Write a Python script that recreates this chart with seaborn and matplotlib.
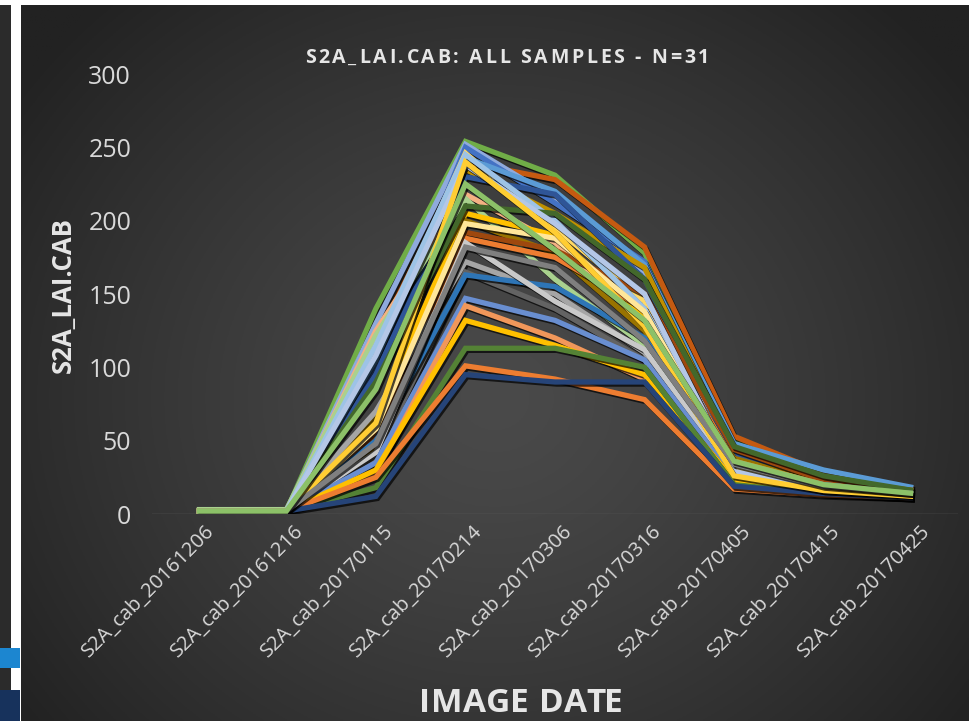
import numpy as np
import pandas as pd
import matplotlib
matplotlib.use("Agg")
import matplotlib.pyplot as plt
import matplotlib.patheffects as pe
import matplotlib.transforms as mtransforms
from matplotlib.patches import Rectangle
import seaborn as sns

# ---------------- data ----------------
dates = ["S2A_cab_20161206", "S2A_cab_20161216", "S2A_cab_20170115",
         "S2A_cab_20170214", "S2A_cab_20170306", "S2A_cab_20170316",
         "S2A_cab_20170405", "S2A_cab_20170415", "S2A_cab_20170425"]

s01 = [2, 2, 140, 254, 231, 178, 50, 27, 16]
s02 = [2, 2, 120, 240, 228, 182, 53, 28, 17]
s03 = [2, 2, 130, 252, 215, 165, 35, 20, 14]
s04 = [2, 2, 100, 250, 212, 172, 45, 25, 15]
s05 = [2, 2, 110, 246, 195, 145, 30, 17, 13]
s06 = [2, 2, 105, 243, 220, 170, 48, 30, 18]
s07 = [2, 2, 60, 235, 205, 168, 42, 24, 16]
s08 = [2, 2, 95, 230, 218, 160, 40, 22, 15]
s09 = [2, 2, 125, 218, 185, 130, 28, 18, 13]
s10 = [3, 3, 122, 215, 160, 115, 25, 16, 12]
s11 = [2, 2, 65, 205, 190, 135, 32, 19, 14]
s12 = [2, 2, 45, 200, 178, 125, 38, 21, 15]
s13 = [2, 2, 55, 192, 180, 150, 44, 23, 16]
s14 = [2, 2, 40, 188, 175, 140, 36, 20, 14]
s15 = [2, 2, 70, 172, 150, 110, 30, 18, 13]
s16 = [2, 2, 38, 165, 140, 105, 26, 17, 12]
s17 = [2, 2, 50, 163, 155, 120, 33, 20, 14]
s18 = [2, 2, 42, 185, 145, 112, 27, 16, 12]
s19 = [2, 2, 35, 147, 132, 105, 24, 15, 12]
s20 = [2, 2, 28, 142, 120, 92, 22, 14, 11]
s21 = [2, 2, 30, 132, 115, 95, 23, 15, 12]
s22 = [2, 2, 18, 113, 113, 100, 20, 14, 11]
s23 = [2, 2, 25, 101, 92, 78, 17, 13, 11]
s24 = [2, 2, 12, 95, 90, 90, 19, 14, 11]
s25 = [2, 2, 115, 245, 200, 140, 32, 18, 13]
s26 = [2, 2, 90, 210, 205, 160, 46, 26, 16]
s27 = [2, 2, 58, 198, 188, 138, 30, 17, 13]
s28 = [2, 2, 108, 238, 198, 150, 29, 16, 13]
s29 = [2, 2, 62, 240, 192, 128, 26, 16, 12]
s30 = [2, 2, 48, 182, 168, 118, 34, 19, 14]
s31 = [2, 2, 85, 225, 180, 132, 36, 20, 14]

series = [s01, s02, s03, s04, s05, s06, s07, s08, s09, s10, s11, s12, s13, s14, s15,
          s16, s17, s18, s19, s20, s21, s22, s23, s24, s25, s26, s27, s28, s29, s30, s31]
names = [f"S{i+1:02d}" for i in range(len(series))]

colors = ["#70AD47", "#C55A11", "#8FAADC", "#4472C4", "#FFD966", "#5B9BD5", "#BF9000",
          "#2F5597", "#F4B183", "#A9D18E", "#FFC000", "#997300", "#9E480E", "#ED7D31",
          "#A5A5A5", "#636363", "#2E75B6", "#C9C9C9", "#698ED0", "#F1975A", "#FFC000",
          "#548235", "#ED7D31", "#264478", "#9DC3E6", "#43682B", "#FFE699", "#B4C7E7",
          "#FFCD33", "#7F7F7F", "#8CC168"]

title_text = "S2A_LAI.CAB: ALL SAMPLES - N=31"
ylabel_text = "S2A_LAI.CAB"
xlabel_text = "IMAGE DATE"

df = pd.DataFrame({
    "date": np.tile(dates, len(series)),
    "value": np.concatenate(series),
    "sample": np.repeat(names, len(dates)),
})

# ---------------- figure ----------------
W, H = 969, 721
fig = plt.figure(figsize=(W / 100, H / 100), dpi=100, facecolor="white")

def fx(px):
    return px / W

def fy(py):
    return 1 - py / H

# background gradient panel
bg = fig.add_axes([fx(21), 0, fx(W - 21), fy(5)])
yy, xx = np.mgrid[0:1:300j, 0:1:400j]
d = np.sqrt(((xx - 0.5) / 0.62) ** 2 + ((yy - 0.45) / 0.75) ** 2)
d = np.clip(d, 0, 1)
c0, c1 = 0x4A / 255, 0x22 / 255
img = c0 + (c1 - c0) * d ** 1.3
bg.imshow(np.dstack([img, img, img]), aspect="auto", extent=[0, 1, 0, 1], origin="lower")
bg.set_axis_off()

# left strip decorations
fig.patches.append(Rectangle((0, 0), fx(11), fy(5), transform=fig.transFigure,
                             facecolor="#2B2B2B", edgecolor="none", zorder=-5))
fig.patches.append(Rectangle((0, fy(668)), fx(20), fy(648) - fy(668), transform=fig.transFigure,
                             facecolor="#1C86D0", edgecolor="none"))
fig.patches.append(Rectangle((0, 0), fx(20), fy(690), transform=fig.transFigure,
                             facecolor="#17325C", edgecolor="none"))

ax = fig.add_axes([fx(152), fy(514), fx(958) - fx(152), fy(74) - fy(514)])
ax.set_facecolor("none")

sns.lineplot(data=df, x="date", y="value", hue="sample", palette=colors,
             estimator=None, sort=False, linewidth=3.8, legend=False, ax=ax)

for ln in ax.get_lines():
    ln.set_path_effects([pe.SimpleLineShadow(offset=(1.2, -1.5), shadow_color="black", alpha=0.7),
                         pe.Normal()])
    ln.set_solid_joinstyle("miter")
    ln.set_solid_capstyle("butt")

ax.set_xlim(-0.5, 8.5)
ax.set_ylim(0, 300)
ax.set_yticks([0, 50, 100, 150, 200, 250, 300])
for sp in ax.spines.values():
    sp.set_visible(False)
ax.axhline(0, color="#5E5E5E", linewidth=1.0, zorder=0)
ax.grid(False)
ax.tick_params(axis="both", length=0, colors="#D9D9D9")
ax.tick_params(axis="y", labelsize=18, pad=15)
ax.tick_params(axis="x", labelsize=14.5, pad=5)
for lab in ax.get_yticklabels():
    lab.set_fontfamily("Open Sans")
shift = mtransforms.ScaledTranslation(7 / 100, 0, fig.dpi_scale_trans)
for lab in ax.get_xticklabels():
    lab.set_rotation(45)
    lab.set_ha("right")
    lab.set_rotation_mode("anchor")
    lab.set_fontfamily("Open Sans")
    lab.set_transform(lab.get_transform() + shift)
ax.set_xlabel("")
ax.set_ylabel("")

# ---- tracked (letter-spaced) text helper ----
renderer = fig.canvas.get_renderer()

def tracked_text(xc, yc, s, track_px, **kw):
    """Draw s centered at pixel (xc, yc) with extra spacing between letters."""
    probe = fig.text(0, 0, "|", **kw)
    bar_w = probe.get_window_extent(renderer).width
    offs = []
    for i in range(len(s) + 1):
        probe.set_text(s[:i] + "|")
        offs.append(probe.get_window_extent(renderer).width - bar_w + i * track_px)
    probe.remove()
    total = offs[-1] - track_px
    for i, ch in enumerate(s):
        if ch == " ":
            continue
        o = offs[i] - total / 2
        fig.text(fx(xc + o), fy(yc), ch, ha="left", va="center", **kw)

tracked_text(507, 58, title_text, 2.7, fontsize=14, fontweight="bold",
             color="#E6E6E6", family="Open Sans")
fig.text(fx(63), fy(295), ylabel_text, ha="center", va="center", rotation=90,
         fontsize=18.5, fontweight="bold", color="#E6E6E6", family="Open Sans")
tracked_text(521, 703, xlabel_text, 0.5, fontsize=24, fontweight="bold",
             color="#E6E6E6", family="Open Sans")

fig.savefig("out.png", dpi=100, facecolor="white")
